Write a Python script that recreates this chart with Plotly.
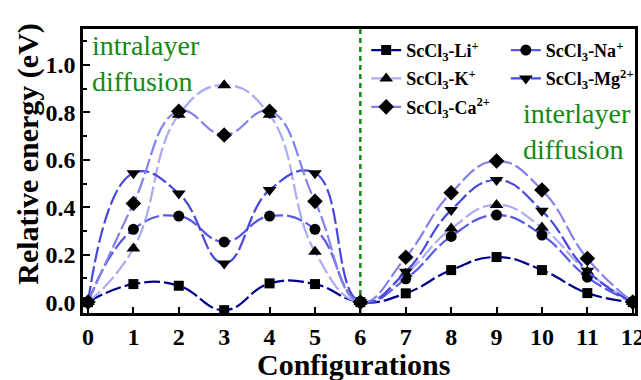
import plotly.graph_objects as go

# Configuration index along the diffusion path (0-6 intralayer, 6-12 interlayer)
configs = list(range(13))
tick_labels = [str(c) for c in configs]

li = [0.0, 0.076, 0.069, -0.034, 0.079, 0.076, 0.0, 0.037, 0.135, 0.19, 0.135, 0.038, 0.0]
na = [0.0, 0.307, 0.363, 0.254, 0.363, 0.307, 0.0, 0.098, 0.277, 0.367, 0.283, 0.105, 0.0]
k = [0.0, 0.226, 0.79, 0.915, 0.79, 0.212, 0.0, 0.12, 0.31, 0.41, 0.315, 0.128, 0.0]
mg = [0.0, 0.544, 0.458, 0.163, 0.473, 0.544, 0.0, 0.128, 0.388, 0.515, 0.385, 0.132, 0.0]
ca = [0.0, 0.416, 0.805, 0.705, 0.805, 0.425, 0.0, 0.189, 0.461, 0.595, 0.473, 0.184, 0.0]

series = [
    ("ScCl<sub>3</sub>-Li<sup>+</sup>", li, "#00008C", "square", 10, "legend"),
    ("ScCl<sub>3</sub>-Na<sup>+</sup>", na, "#5A5AE6", "circle", 11, "legend2"),
    ("ScCl<sub>3</sub>-K<sup>+</sup>", k, "#ABABF4", "triangle-up", 12, "legend"),
    ("ScCl<sub>3</sub>-Mg<sup>2+</sup>", mg, "#4848DC", "triangle-down", 12, "legend2"),
    ("ScCl<sub>3</sub>-Ca<sup>2+</sup>", ca, "#8282EE", "diamond", 12, "legend"),
]

SERIF = "Liberation Serif, Times New Roman, serif"
GREEN = "#138A13"

fig = go.Figure()
for name, vals, color, symbol, msize, leg in series:
    fig.add_trace(go.Scatter(
        x=configs, y=vals, name=name, legend=leg, legendgroup=name,
        mode="lines+markers",
        line=dict(color=color, width=2.2, shape="spline", smoothing=1.3, dash="16px,4px"),
        marker=dict(symbol=symbol, size=msize, color="black", line=dict(width=0)),
    ))

# Boundary between intralayer and interlayer paths
fig.add_shape(type="line", xref="x", yref="paper", x0=6, x1=6, y0=0, y1=1,
              line=dict(color=GREEN, width=2.5, dash="5px,4px"), layer="below")

axis_common = dict(
    showline=True, linecolor="black", linewidth=2.5, mirror=True,
    ticks="inside", tickcolor="black", tickwidth=2,
    showgrid=False, zeroline=False, ticklabeloverflow="allow",
    tickfont=dict(family=SERIF, size=24, color="black", weight="bold"),
)

fig.update_xaxes(range=[-0.11, 12.05], tickmode="array", tickvals=configs,
                 ticktext=tick_labels, ticklen=6, **axis_common)
fig.update_yaxes(range=[-0.046, 1.152], tickmode="array",
                 tickvals=[0.0, 0.2, 0.4, 0.6, 0.8, 1.0], tickformat=".1f",
                 ticklen=7, minor=dict(ticks="inside", ticklen=4, tickwidth=2,
                                       tickcolor="black", dtick=0.1, tick0=0.1),
                 **axis_common)

legend_font = dict(family=SERIF, size=18, color="black", weight="bold")
fig.update_layout(
    width=641, height=380,
    margin=dict(l=83, r=6, t=29, b=67, autoexpand=False),
    plot_bgcolor="white", paper_bgcolor="white",
    legend=dict(x=0.513, y=0.99, xanchor="left", yanchor="top",
                bgcolor="rgba(0,0,0,0)", font=legend_font, tracegroupgap=2,
                itemwidth=30),
    legend2=dict(x=0.766, y=0.99, xanchor="left", yanchor="top",
                 bgcolor="rgba(0,0,0,0)", font=legend_font, tracegroupgap=2,
                 itemwidth=30),
    annotations=[
        dict(text="intralayer<br>diffusion", xref="paper", yref="paper",
             x=0.012, y=1.005, xanchor="left", yanchor="top", align="left",
             showarrow=False, font=dict(family=SERIF, size=28, color=GREEN)),
        dict(text="interlayer<br>diffusion", xref="paper", yref="paper",
             x=0.793, y=0.765, xanchor="left", yanchor="top", align="left",
             showarrow=False, font=dict(family=SERIF, size=28, color=GREEN)),
        dict(text="Configurations", xref="paper", yref="paper",
             x=0.49, y=-0.18, xanchor="center", yanchor="middle", showarrow=False,
             font=dict(family=SERIF, size=30, color="black", weight="bold")),
        dict(text="Relative energy (eV)", xref="paper", yref="paper",
             x=-0.1, y=0.56, xanchor="center", yanchor="middle", textangle=-90,
             showarrow=False,
             font=dict(family=SERIF, size=30, color="black", weight="bold")),
    ],
)

fig.write_html("out.html")
